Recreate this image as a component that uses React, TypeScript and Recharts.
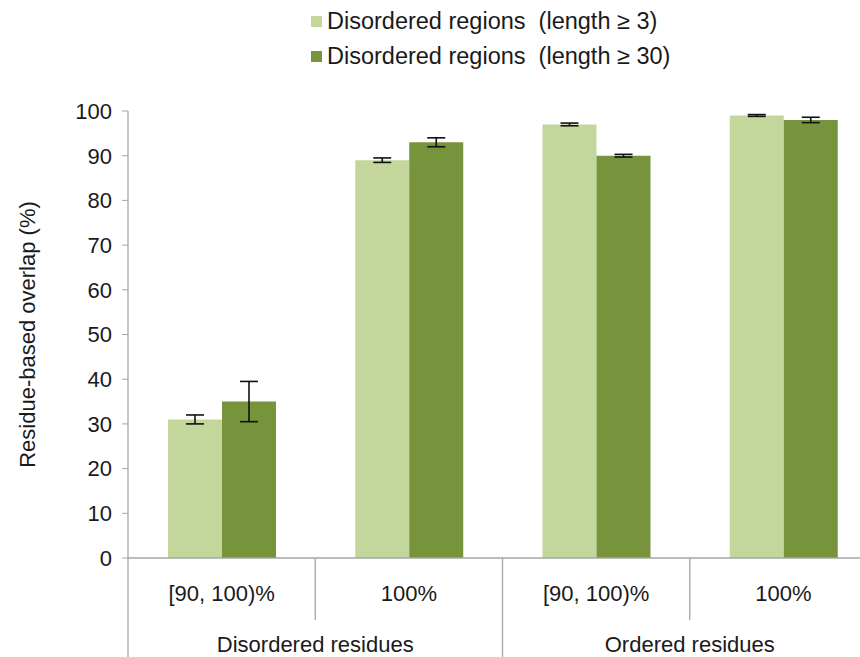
import React from "react";
import { BarChart, Bar, XAxis, YAxis, ErrorBar } from "recharts";

const subCategories = ["[90, 100)%", "100%", "[90, 100)%", "100%"];
const groups = ["Disordered residues", "Disordered residues", "Ordered residues", "Ordered residues"];
const short3 = [31, 89, 97, 99];
const short3Err = [1, 0.5, 0.3, 0.2];
const long30 = [35, 93, 90, 98];
const long30Err = [4.5, 1, 0.3, 0.6];
const yTicks = [0, 10, 20, 30, 40, 50, 60, 70, 80, 90, 100];
const seriesNames = ["Disordered regions  (length \u2265 3)", "Disordered regions  (length \u2265 30)"];

const LIGHT = "#c3d69b";
const DARK = "#77933c";
const AXIS = "#a6a6a6";
const TEXT = "#1a1a1a";
const FONT = "'Liberation Sans', Arial, sans-serif";
const FS = 22;

const data = subCategories.map((s, i) => ({
  sub: s,
  group: groups[i],
  a: short3[i],
  aErr: short3Err[i],
  b: long30[i],
  bErr: long30Err[i],
}));

const W = 860;
const H = 657;
const M = { top: 111, right: -17, left: 0, bottom: 0 };
const Y_W = 128;
const X_H = 99;
const plotW = W - M.left - M.right - Y_W;
const half = plotW / subCategories.length / 2;

const XTick = (props: any) => {
  const { x, y, payload } = props;
  const i = payload.index;
  const axisY = y - 8;
  const isGroupStart = i === 0 || groups[i] !== groups[i - 1];
  const groupEnd = groups.lastIndexOf(groups[i]);
  return (
    <g>
      <text x={x} y={axisY + 43} textAnchor="middle" fontSize={FS} fontFamily={FONT} fill={TEXT}>
        {payload.value}
      </text>
      <line
        x1={x - half}
        x2={x - half}
        y1={axisY}
        y2={isGroupStart ? axisY + X_H : axisY + 62}
        stroke={AXIS}
        strokeWidth={1.3}
      />
      {isGroupStart && (
        <text
          x={x - half + (groupEnd - i + 1) * half}
          y={axisY + 94}
          textAnchor="middle"
          fontSize={FS}
          fontFamily={FONT}
          fill={TEXT}
        >
          {groups[i]}
        </text>
      )}
    </g>
  );
};

const LegendBox = () => (
  <div
    style={{
      position: "absolute",
      left: 311,
      top: 4,
      fontFamily: FONT,
      fontSize: 23.5,
      color: TEXT,
    }}
  >
    {[LIGHT, DARK].map((c, i) => (
      <div key={i} style={{ display: "flex", alignItems: "center", height: 35 }}>
        <span style={{ display: "inline-block", width: 11, height: 11, background: c, marginRight: 5 }} />
        <span style={{ whiteSpace: "pre" }}>{seriesNames[i]}</span>
      </div>
    ))}
  </div>
);

export default function App() {
  return (
    <div style={{ position: "absolute", left: 0, top: 0, width: W, height: H, background: "#fff", overflow: "hidden" }}>
      <BarChart width={W} height={H} data={data} margin={M} barCategoryGap={40} barGap={0}>
        <XAxis
          dataKey="sub"
          height={X_H}
          tickLine={false}
          axisLine={{ stroke: AXIS, strokeWidth: 1.3 }}
          tick={<XTick />}
          interval={0}
        />
        <YAxis
          width={Y_W}
          domain={[0, 100]}
          ticks={yTicks}
          tickLine={{ stroke: AXIS }}
          tickSize={6}
          axisLine={{ stroke: AXIS, strokeWidth: 1.3 }}
          tick={{ fontSize: FS, fontFamily: FONT, fill: TEXT }}
          tickMargin={10}
          label={{
            value: "Residue-based overlap (%)",
            angle: -90,
            position: "insideLeft",
            dx: 22,
            dy: 0,
            style: { fontSize: FS, fontFamily: FONT, fill: TEXT, textAnchor: "middle" },
          }}
        />
        <Bar dataKey="a" name={seriesNames[0]} fill={LIGHT} isAnimationActive={false}>
          <ErrorBar dataKey="aErr" width={9} stroke="#111" strokeWidth={1.6} />
        </Bar>
        <Bar dataKey="b" name={seriesNames[1]} fill={DARK} isAnimationActive={false}>
          <ErrorBar dataKey="bErr" width={9} stroke="#111" strokeWidth={1.6} />
        </Bar>
      </BarChart>
      <LegendBox />
    </div>
  );
}
